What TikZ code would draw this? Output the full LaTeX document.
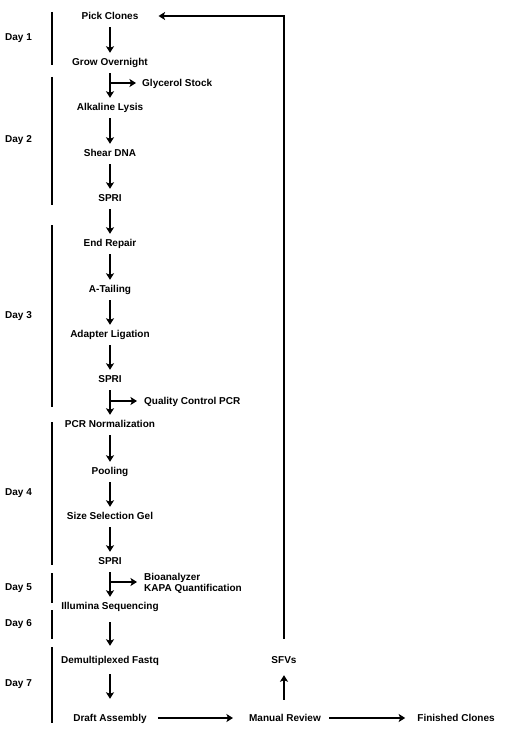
\documentclass[tikz,border=0pt]{standalone}
\usepackage{fontspec}
\setmainfont{Liberation Sans}
\usetikzlibrary{arrows.meta}
\begin{document}
\begin{tikzpicture}[x=1pt,y=-1pt,
  lbl/.style={font=\bfseries\fontsize{10}{11}\selectfont, inner sep=2pt, text height=8pt, text depth=1pt},
  lbl2/.style={font=\bfseries\fontsize{10}{11}\selectfont, inner sep=2pt, align=left},
  arr/.style={line width=1.6pt,-{Stealth[length=6.5pt,width=8pt,inset=1.5pt]}},
  flow/.style={arr, shorten <=4.5pt, shorten >=2.5pt},
  bar/.style={line width=1.6pt}]
\useasboundingbox[fill=white] (0,0) rectangle (516,733);

% main column
\node[lbl] (pick)  at (110,16)  {Pick Clones};
\node[lbl] (grow)  at (110,62)  {Grow Overnight};
\node[lbl] (alk)   at (110,107) {Alkaline Lysis};
\node[lbl] (shear) at (110,153) {Shear DNA};
\node[lbl] (spria) at (110,198) {SPRI};
\node[lbl] (endr)  at (110,243) {End Repair};
\node[lbl] (atail) at (110,289) {A-Tailing};
\node[lbl] (adapt) at (110,334) {Adapter Ligation};
\node[lbl] (sprib) at (110,379) {SPRI};
\node[lbl] (pcrn)  at (110,424) {PCR Normalization};
\node[lbl] (pool)  at (110,471) {Pooling};
\node[lbl] (size)  at (110,516) {Size Selection Gel};
\node[lbl] (spric) at (110,561) {SPRI};
\node[lbl] (illum) at (110,606) {Illumina Sequencing};
\node[lbl] (demux) at (110,660) {Demultiplexed Fastq};
\node[lbl] (draft) at (110,718) {Draft Assembly};
\node[lbl] (mrev)  at (285,718) {Manual Review};
\node[lbl] (fin)   at (456,718) {Finished Clones};
\node[lbl] (sfv)   at (284,660) {SFVs};

% side outputs
\node[lbl,anchor=west] (gly) at (140,83)  {Glycerol Stock};
\node[lbl,anchor=west] (qc)  at (142,401) {Quality Control PCR};
\node[lbl2,anchor=west] (bio) at (142,583) {Bioanalyzer\\KAPA Quantification};

% day labels
\node[lbl,anchor=west] (d1) at (3,37)  {Day 1};
\node[lbl,anchor=west] (d2) at (3,139) {Day 2};
\node[lbl,anchor=west] (d3) at (3,315) {Day 3};
\node[lbl,anchor=west] (d4) at (3,492) {Day 4};
\node[lbl,anchor=west] (d5) at (3,587) {Day 5};
\node[lbl,anchor=west] (d6) at (3,623) {Day 6};
\node[lbl,anchor=west] (d7) at (3,683) {Day 7};

% day bars
\draw[bar] (52,12)  -- (52,65);
\draw[bar] (52,77)  -- (52,205);
\draw[bar] (52,225) -- (52,407);
\draw[bar] (52,422) -- (52,565);
\draw[bar] (52,573) -- (52,603);
\draw[bar] (52,610) -- (52,639);
\draw[bar] (52,647) -- (52,723);

% main flow arrows
\draw[flow] (pick) -- (grow);
\draw[flow] (grow) -- (alk);
\draw[flow] (alk) -- (shear);
\draw[flow] (shear) -- (spria);
\draw[flow] (spria) -- (endr);
\draw[flow] (endr) -- (atail);
\draw[flow] (atail) -- (adapt);
\draw[flow] (adapt) -- (sprib);
\draw[flow] (sprib) -- (pcrn);
\draw[flow] (pcrn) -- (pool);
\draw[flow] (pool) -- (size);
\draw[flow] (size) -- (spric);
\draw[flow] (spric) -- (illum);
\draw[arr, shorten <=9.5pt, shorten >=7.5pt] (illum) -- (demux);
\draw[arr, shorten <=7.5pt, shorten >=12.5pt] (demux) -- (draft);

% branches
\coordinate (b1) at (110,83);
\coordinate (b2) at (110,401);
\coordinate (b3) at (110,582);
\draw[arr, shorten >=4pt] (b1) -- (gly.west);
\draw[arr, shorten >=5pt] (b2) -- (qc.west);
\draw[arr, shorten >=5pt] (b3) -- (b3 -| bio.west);

% bottom flow
\draw[arr, shorten <=9pt, shorten >=14pt] (draft.east) -- (mrev.west);
\draw[arr, shorten <=6pt, shorten >=10pt] (mrev.east) -- (fin.west);
\draw[arr, shorten <=11.5pt, shorten >=8.5pt] (mrev.north -| sfv.south) -- (sfv.south);
\draw[arr, shorten <=14.5pt, shorten >=18pt] (sfv.north) |- (pick.east);
\end{tikzpicture}
\end{document}
